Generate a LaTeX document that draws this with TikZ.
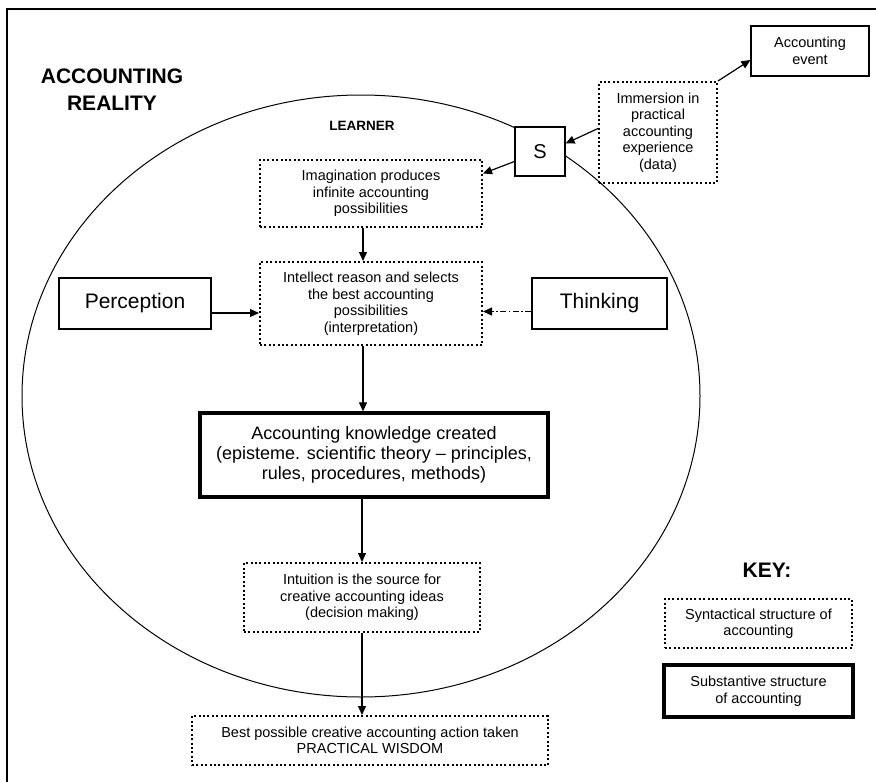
\documentclass[tikz,border=0pt]{standalone}
\usepackage{fontspec}
\setmainfont{Liberation Sans}
\usetikzlibrary{arrows.meta}
\begin{document}
\begin{tikzpicture}[x=1pt,y=-1pt,
  base/.style={draw, fill=white, align=center, inner sep=0pt},
  dotbox/.style={base, line width=2pt, dash pattern=on 2pt off 2.4pt, font=\fontsize{14.5}{16.5}\selectfont},
  solidbox/.style={base, line width=1.2pt},
  thickbox/.style={base, line width=3.3pt},
  arr/.style={-{Triangle[length=9pt,width=8pt]}, line width=1.2pt},
  title/.style={font=\bfseries\fontsize{21}{27}\selectfont, align=center},
]
\useasboundingbox (0,0) rectangle (876,782);
% frame
\draw[line width=1.3pt] (876,9) -- (7,9) -- (7,782);
% learner circle
\draw[line width=1pt] (361,396) ellipse [x radius=339pt, y radius=301pt];

\node[title] (reality) at (112,90) {ACCOUNTING\\REALITY};
\node[font=\bfseries\fontsize{13.5}{15}\selectfont] (learner) at (362,126) {LEARNER};
\node[title] (key) at (767,570) {KEY:};

\node[solidbox, minimum width=118pt, minimum height=50pt, font=\fontsize{14.5}{16.5}\selectfont] (event) at (810,51) {Accounting\\event};
\node[dotbox, minimum width=118pt, minimum height=101pt] (imm) at (658,132.5) {Immersion in\\practical\\accounting\\experience\\(data)};
\node[solidbox, minimum width=50pt, minimum height=49pt, font=\fontsize{20}{22}\selectfont] (S) at (540,151.5) {S};
\node[dotbox, minimum width=222pt, minimum height=67pt] (imag) at (371,193.5) {Imagination produces\\infinite accounting\\possibilities};
\node[dotbox, minimum width=222pt, minimum height=83pt] (intel) at (371,303.5) {Intellect reason and selects\\the best accounting\\possibilities\\(interpretation)};
\node[solidbox, minimum width=152pt, minimum height=51pt, font=\fontsize{21}{24}\selectfont] (perc) at (135,303.5) {Perception};
\node[solidbox, minimum width=135pt, minimum height=51pt, font=\fontsize{21}{24}\selectfont] (think) at (599.5,303.5) {Thinking};
\node[thickbox, minimum width=348pt, minimum height=84pt, font=\fontsize{18}{20}\selectfont] (know) at (374,455) {Accounting knowledge created\\(episteme. scientific theory -- principles,\\rules, procedures, methods)};
\node[dotbox, minimum width=236pt, minimum height=69pt] (intu) at (362,597.5) {Intuition is the source for\\creative accounting ideas\\(decision making)};
\node[dotbox, minimum width=356pt, minimum height=49pt] (best) at (370,740.5) {Best possible creative accounting action taken\\PRACTICAL WISDOM};

\node[dotbox, minimum width=187pt, minimum height=49pt] (key1) at (758.5,623.5) {Syntactical structure of\\accounting};
\node[thickbox, line width=3.6pt, minimum width=189pt, minimum height=52pt, font=\fontsize{14.5}{16.5}\selectfont] (key2) at (758.5,691) {Substantive structure\\of accounting};

% connectors
\draw[arr] (imm.north east) -- ([yshift=-9pt]event.west);
\draw[arr] ([yshift=4pt]imm.west) -- ([yshift=8pt]S.east);
\draw[arr] ([yshift=-10pt]S.west) -- ([yshift=20pt]imag.east);
\draw[arr] ([xshift=-8pt]imag.south) -- ([xshift=-8pt]intel.north);
\draw[arr] ([yshift=-9.5pt]perc.east) -- ([yshift=-9.5pt]intel.west);
\draw[arr, dash pattern=on 6pt off 2.5pt on 1.5pt off 2.5pt] ([yshift=-8pt]think.west) -- ([yshift=-8pt]intel.east);
\draw[arr] ([xshift=-8pt]intel.south) -- ([xshift=-11pt]know.north);
\draw[arr] ([xshift=-12pt]know.south) -- (intu.north);
\draw[arr] ([xshift=0pt]intu.south) -- ([xshift=-8pt]best.north);
\end{tikzpicture}
\end{document}
